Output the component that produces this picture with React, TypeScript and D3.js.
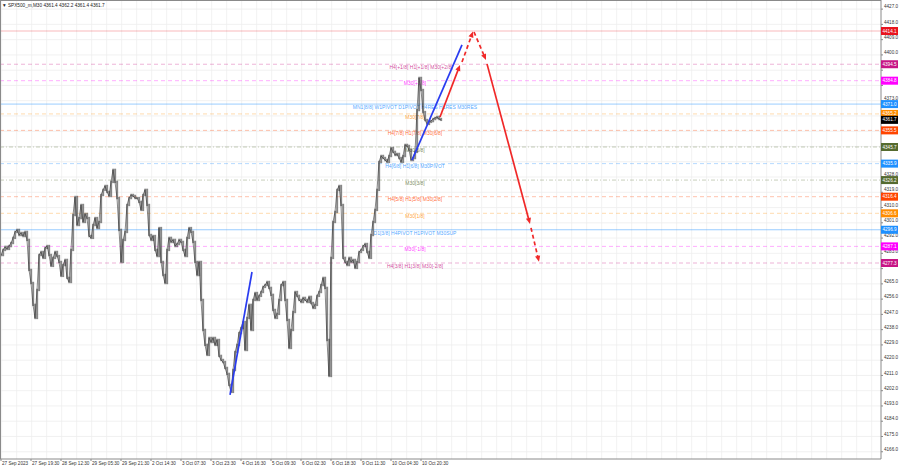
import React from 'react';
import * as d3 from 'd3';

const W = 900;
const H = 468;

// M30 closes, one per bar
const closes = [
  4282.0, 4285.0, 4286.8, 4285.6, 4287.3, 4289.1, 4292.1, 4295.6, 4296.8, 4293.8,
  4295.0, 4293.2, 4295.6, 4290.9, 4273.2, 4265.5, 4252.6, 4244.9, 4261.4, 4282.0,
  4283.8, 4280.3, 4286.2, 4287.3, 4282.0, 4275.6, 4280.3, 4283.8, 4281.4, 4277.9,
  4269.7, 4276.1, 4279.1, 4268.5, 4266.1, 4285.0, 4305.6, 4316.2, 4299.7, 4303.8,
  4311.5, 4301.5, 4306.2, 4303.8, 4293.2, 4292.1, 4299.7, 4303.8, 4297.9, 4301.5,
  4317.4, 4320.4, 4322.7, 4319.2, 4316.8, 4325.1, 4332.2, 4325.1, 4315.6, 4296.8,
  4277.9, 4290.9, 4295.6, 4311.5, 4315.6, 4317.4, 4316.8, 4315.6, 4315.6, 4313.3,
  4308.6, 4317.4, 4320.4, 4311.5, 4293.8, 4290.9, 4293.2, 4285.0, 4281.4, 4297.9,
  4277.9, 4270.2, 4265.5, 4285.0, 4292.1, 4289.7, 4290.9, 4287.3, 4288.5, 4290.9,
  4289.7, 4285.0, 4281.4, 4292.1, 4297.9, 4295.6, 4289.7, 4277.9, 4270.2, 4277.9,
  4255.5, 4237.8, 4229.0, 4223.1, 4233.1, 4230.7, 4233.1, 4229.0, 4231.9, 4222.5,
  4220.1, 4218.9, 4215.4, 4211.9, 4205.4, 4201.3, 4214.2, 4224.8, 4229.0, 4236.0,
  4239.0, 4242.5, 4226.0, 4244.9, 4252.6, 4237.8, 4255.5, 4259.6, 4255.5, 4257.9,
  4260.2, 4263.2, 4264.3, 4266.1, 4262.6, 4258.5, 4249.6, 4244.9, 4247.3, 4255.5,
  4264.3, 4266.1, 4255.5, 4243.7, 4227.2, 4237.8, 4248.4, 4260.2, 4257.9, 4255.5,
  4254.3, 4256.7, 4255.5, 4254.3, 4257.3, 4253.7, 4250.8, 4252.6, 4257.9, 4260.2,
  4264.3, 4268.5, 4262.6, 4231.9, 4210.7, 4280.3, 4301.5, 4307.4, 4320.4, 4322.7,
  4311.5, 4280.3, 4277.9, 4276.1, 4280.3, 4277.9, 4279.1, 4274.4, 4277.9, 4283.8,
  4285.0, 4287.3, 4288.5, 4283.8, 4280.3, 4293.8, 4301.5, 4308.6, 4320.4, 4336.9,
  4340.4, 4339.2, 4338.0, 4336.9, 4340.4, 4345.1, 4342.8, 4341.0, 4341.6, 4339.2,
  4336.9, 4340.4, 4346.9, 4346.3, 4343.9, 4338.0, 4339.2, 4342.8, 4367.5, 4386.4,
  4379.3, 4366.3, 4361.6, 4359.3, 4360.5, 4361.0, 4362.2, 4362.8, 4363.4, 4362.2,
  4361.7,
];

const levelPrices = [4414.1, 4394.5, 4384.8, 4371.0, 4365.2, 4355.5, 4345.7, 4335.9, 4326.2, 4316.4, 4306.6, 4296.9, 4287.1, 4277.3];
const levelLabels = [
  '',
  'H4[+1/8] H1[+1/8] M30[+2/8]',
  'M30[+1/8]',
  'MN1[8/8] W1PIVOT D1PIVOT H4RES H1RES M30RES',
  'M30[7/8]',
  'H4[7/8] H1[7/8] M30[6/8]',
  'M30[5/8]',
  'H4[6/8] H1[6/8] M30PIVOT',
  'M30[3/8]',
  'H4[5/8] H1[5/8] M30[2/8]',
  'M30[1/8]',
  'D1[3/8] H4PIVOT H1PIVOT M30SUP',
  'M30[-1/8]',
  'H4[3/8] H1[3/8] M30[-2/8]',
];
const levelColors = ['#e8141e', '#c71585', '#ff00ff', '#1e90ff', '#ff8c00', '#ff4500', '#556b2f', '#1e90ff', '#556b2f', '#ff4500', '#ff8c00', '#1e90ff', '#ff00ff', '#c71585'];
const levelDash = ['', '4,3', '4,3', '', '4,3', '4,3', '4,2,1,2', '4,3', '4,2,1,2', '4,3', '4,3', '', '4,3', '4,3'];

const currentPrice = 4361.7;
const titleText = '\u25BC SPX500_m,M30  4361.4 4362.2 4361.4 4361.7';

const timeLabels = ['27 Sep 2023', '27 Sep 19:30', '28 Sep 12:30', '29 Sep 05:30', '29 Sep 21:30', '2 Oct 14:30', '3 Oct 07:30', '3 Oct 23:30', '4 Oct 16:30', '5 Oct 09:30', '6 Oct 02:30', '6 Oct 18:30', '9 Oct 11:30', '10 Oct 04:30', '10 Oct 20:30'];

// trend lines: [bar index 1, price 1, bar index 2, price 2]
const blueLines = [
  [114.5, 4199.5, 125.5, 4272.0],
  [205.5, 4338.0, 230.5, 4405.9],
];
// red forecast arrows: [i1, p1, i2, p2, dashed]
const redArrows: [number, number, number, number, boolean][] = [
  [219.5, 4363.4, 229.5, 4394.1, false],
  [230.5, 4395.8, 236.0, 4413.8, true],
  [236.5, 4413.5, 242.5, 4397.0, true],
  [243.0, 4394.7, 264.5, 4300.3, false],
  [265.0, 4298.0, 269.0, 4278.0, true],
];

const PLOT_R = 881;
const PLOT_B = 459;
const FONT = 'Liberation Sans, Arial, sans-serif';

export default function App() {
  const x = d3.scaleLinear().domain([0, 220]).range([1, 441]);
  const y = d3.scaleLinear().domain([4414.1, 4277.3]).range([31, 263]);
  const ticks = d3.range(4166, 4428, 9);
  const vgrid = d3.range(0, 60).map((k) => 1.7 + k * 15).filter((v) => v < PLOT_R);

  const bars = closes.map((c, i) => {
    const prev = i === 0 ? c : closes[i - 1];
    const hi = Math.max(prev, c) + 0.7;
    const lo = Math.min(prev, c) - 0.7;
    return { i, hi, lo };
  });
  const closeLine = d3
    .line<number>()
    .x((_, i) => x(i))
    .y((c) => y(c))(closes) as string;

  const boxYs = [...levelPrices, currentPrice].map((p) => y(p));
  const visibleTicks = ticks.filter((t) => boxYs.every((by) => Math.abs(y(t) - 2 - by) > 4.6));

  const arrowHead = (x1: number, y1: number, x2: number, y2: number, color: string, key: string) => {
    const a = Math.atan2(y2 - y1, x2 - x1);
    const L = 6, hw = 2.6;
    const bx = x2 - L * Math.cos(a), by = y2 - L * Math.sin(a);
    const pts = [
      [x2, y2],
      [bx + hw * Math.sin(a), by - hw * Math.cos(a)],
      [bx - hw * Math.sin(a), by + hw * Math.cos(a)],
    ];
    return <polygon key={key} points={pts.map((p) => p.join(',')).join(' ')} fill={color} />;
  };

  return (
    <div style={{ position: 'fixed', left: 0, top: 0, width: W, height: H, background: '#fff' }}>
      <svg width={W} height={H} style={{ display: 'block' }} fontFamily={FONT}>
        <rect x={0} y={0} width={W} height={H} fill="#fff" />
        {/* grid */}
        <g stroke="#eeeeee" strokeWidth={0.8}>
          {vgrid.map((gx, k) => (
            <line key={'vg' + k} x1={gx} x2={gx} y1={0} y2={PLOT_B} />
          ))}
          {ticks.map((t) => (
            <line key={'hg' + t} x1={0} x2={PLOT_R} y1={y(t)} y2={y(t)} />
          ))}
        </g>
        {/* level lines */}
        {levelPrices.map((p, k) => (
          <line
            key={'lv' + k}
            x1={0}
            x2={PLOT_R}
            y1={y(p)}
            y2={y(p)}
            stroke={levelColors[k]}
            strokeOpacity={k === 0 ? 0.3 : levelDash[k] ? 0.32 : 0.45}
            strokeWidth={1}
            strokeDasharray={levelDash[k] || undefined}
          />
        ))}
        {/* level labels */}
        {levelLabels.map((lab, k) =>
          lab ? (
            <text
              key={'ll' + k}
              x={k === 1 ? 421 : 415}
              y={y(levelPrices[k]) + 4.8}
              fontSize={5}
              textAnchor="middle"
              fill={levelColors[k]}
              fillOpacity={0.8}
            >
              {lab}
            </text>
          ) : null
        )}
        {/* price bars */}
        <g>
          {bars.map((b) => (
            <line key={'bs' + b.i} x1={x(b.i) + 0.8} x2={x(b.i) + 0.8} y1={y(b.hi)} y2={y(b.lo)} stroke="#a0a0a0" strokeWidth={1} strokeOpacity={0.6} />
          ))}
          <path d={closeLine} fill="none" stroke="#555" strokeWidth={0.7} />
          {bars.map((b) => (
            <line key={'b' + b.i} x1={x(b.i)} x2={x(b.i)} y1={y(b.hi)} y2={y(b.lo)} stroke="#262626" strokeWidth={0.9} />
          ))}
        </g>
        {/* blue trend lines */}
        {blueLines.map((l, k) => (
          <line key={'bl' + k} x1={x(l[0])} y1={y(l[1])} x2={x(l[2])} y2={y(l[3])} stroke="#2a3cf0" strokeWidth={1.7} />
        ))}
        {/* red forecast arrows */}
        {redArrows.map((r, k) => {
          const x1 = x(r[0]), y1 = y(r[1]), x2 = x(r[2]), y2 = y(r[3]);
          const a = Math.atan2(y2 - y1, x2 - x1);
          const ex = x2 - 5 * Math.cos(a), ey = y2 - 5 * Math.sin(a);
          return (
            <g key={'ra' + k}>
              <line x1={x1} y1={y1} x2={ex} y2={ey} stroke="#f02828" strokeWidth={1.7} strokeDasharray={r[4] ? '4,3' : undefined} />
              {arrowHead(x1, y1, x2, y2, '#f02828', 'ah' + k)}
            </g>
          );
        })}
        {/* frame */}
        <line x1={PLOT_R} x2={PLOT_R} y1={0} y2={PLOT_B} stroke="#8a8a8a" strokeWidth={1} />
        <line x1={0} x2={PLOT_R} y1={PLOT_B} y2={PLOT_B} stroke="#8a8a8a" strokeWidth={1} />
        <line x1={0.5} x2={0.5} y1={0} y2={PLOT_B} stroke="#8a8a8a" strokeWidth={1} />
        <line x1={0} x2={PLOT_R} y1={0.5} y2={0.5} stroke="#8a8a8a" strokeWidth={1} />
        {/* price axis */}
        {ticks.map((t) => (
          <line key={'tk' + t} x1={PLOT_R} x2={PLOT_R + 2} y1={y(t)} y2={y(t)} stroke="#8a8a8a" />
        ))}
        {visibleTicks.map((t) => (
          <text key={'t' + t} x={884} y={y(t) - 2} fontSize={4.6} dominantBaseline="middle" fill="#333">
            {t.toFixed(1)}
          </text>
        ))}
        {/* level price boxes */}
        {levelPrices.map((p, k) => (
          <g key={'bx' + k}>
            <rect x={PLOT_R} y={y(p) - 4} width={17} height={8} fill={levelColors[k]} />
            <text x={PLOT_R + 8.5} y={y(p) + 0.3} fontSize={4.6} textAnchor="middle" dominantBaseline="middle" fill="#fff">
              {p.toFixed(1)}
            </text>
          </g>
        ))}
        <g>
          <rect x={PLOT_R} y={y(currentPrice) - 4} width={17} height={8} fill="#000" />
          <text x={PLOT_R + 8.5} y={y(currentPrice) + 0.3} fontSize={4.6} textAnchor="middle" dominantBaseline="middle" fill="#fff">
            {currentPrice.toFixed(1)}
          </text>
        </g>
        {/* time axis */}
        {timeLabels.map((lab, k) => {
          const tx = x(k * 15);
          return (
            <g key={'tl' + k}>
              <line x1={tx} x2={tx} y1={PLOT_B} y2={PLOT_B + 2} stroke="#8a8a8a" />
              <text x={tx + 1} y={465} fontSize={4.6} fill="#333">
                {lab}
              </text>
            </g>
          );
        })}
        {/* title */}
        <text x={2} y={7} fontSize={4.7} fill="#222">
          {titleText}
        </text>
      </svg>
    </div>
  );
}
